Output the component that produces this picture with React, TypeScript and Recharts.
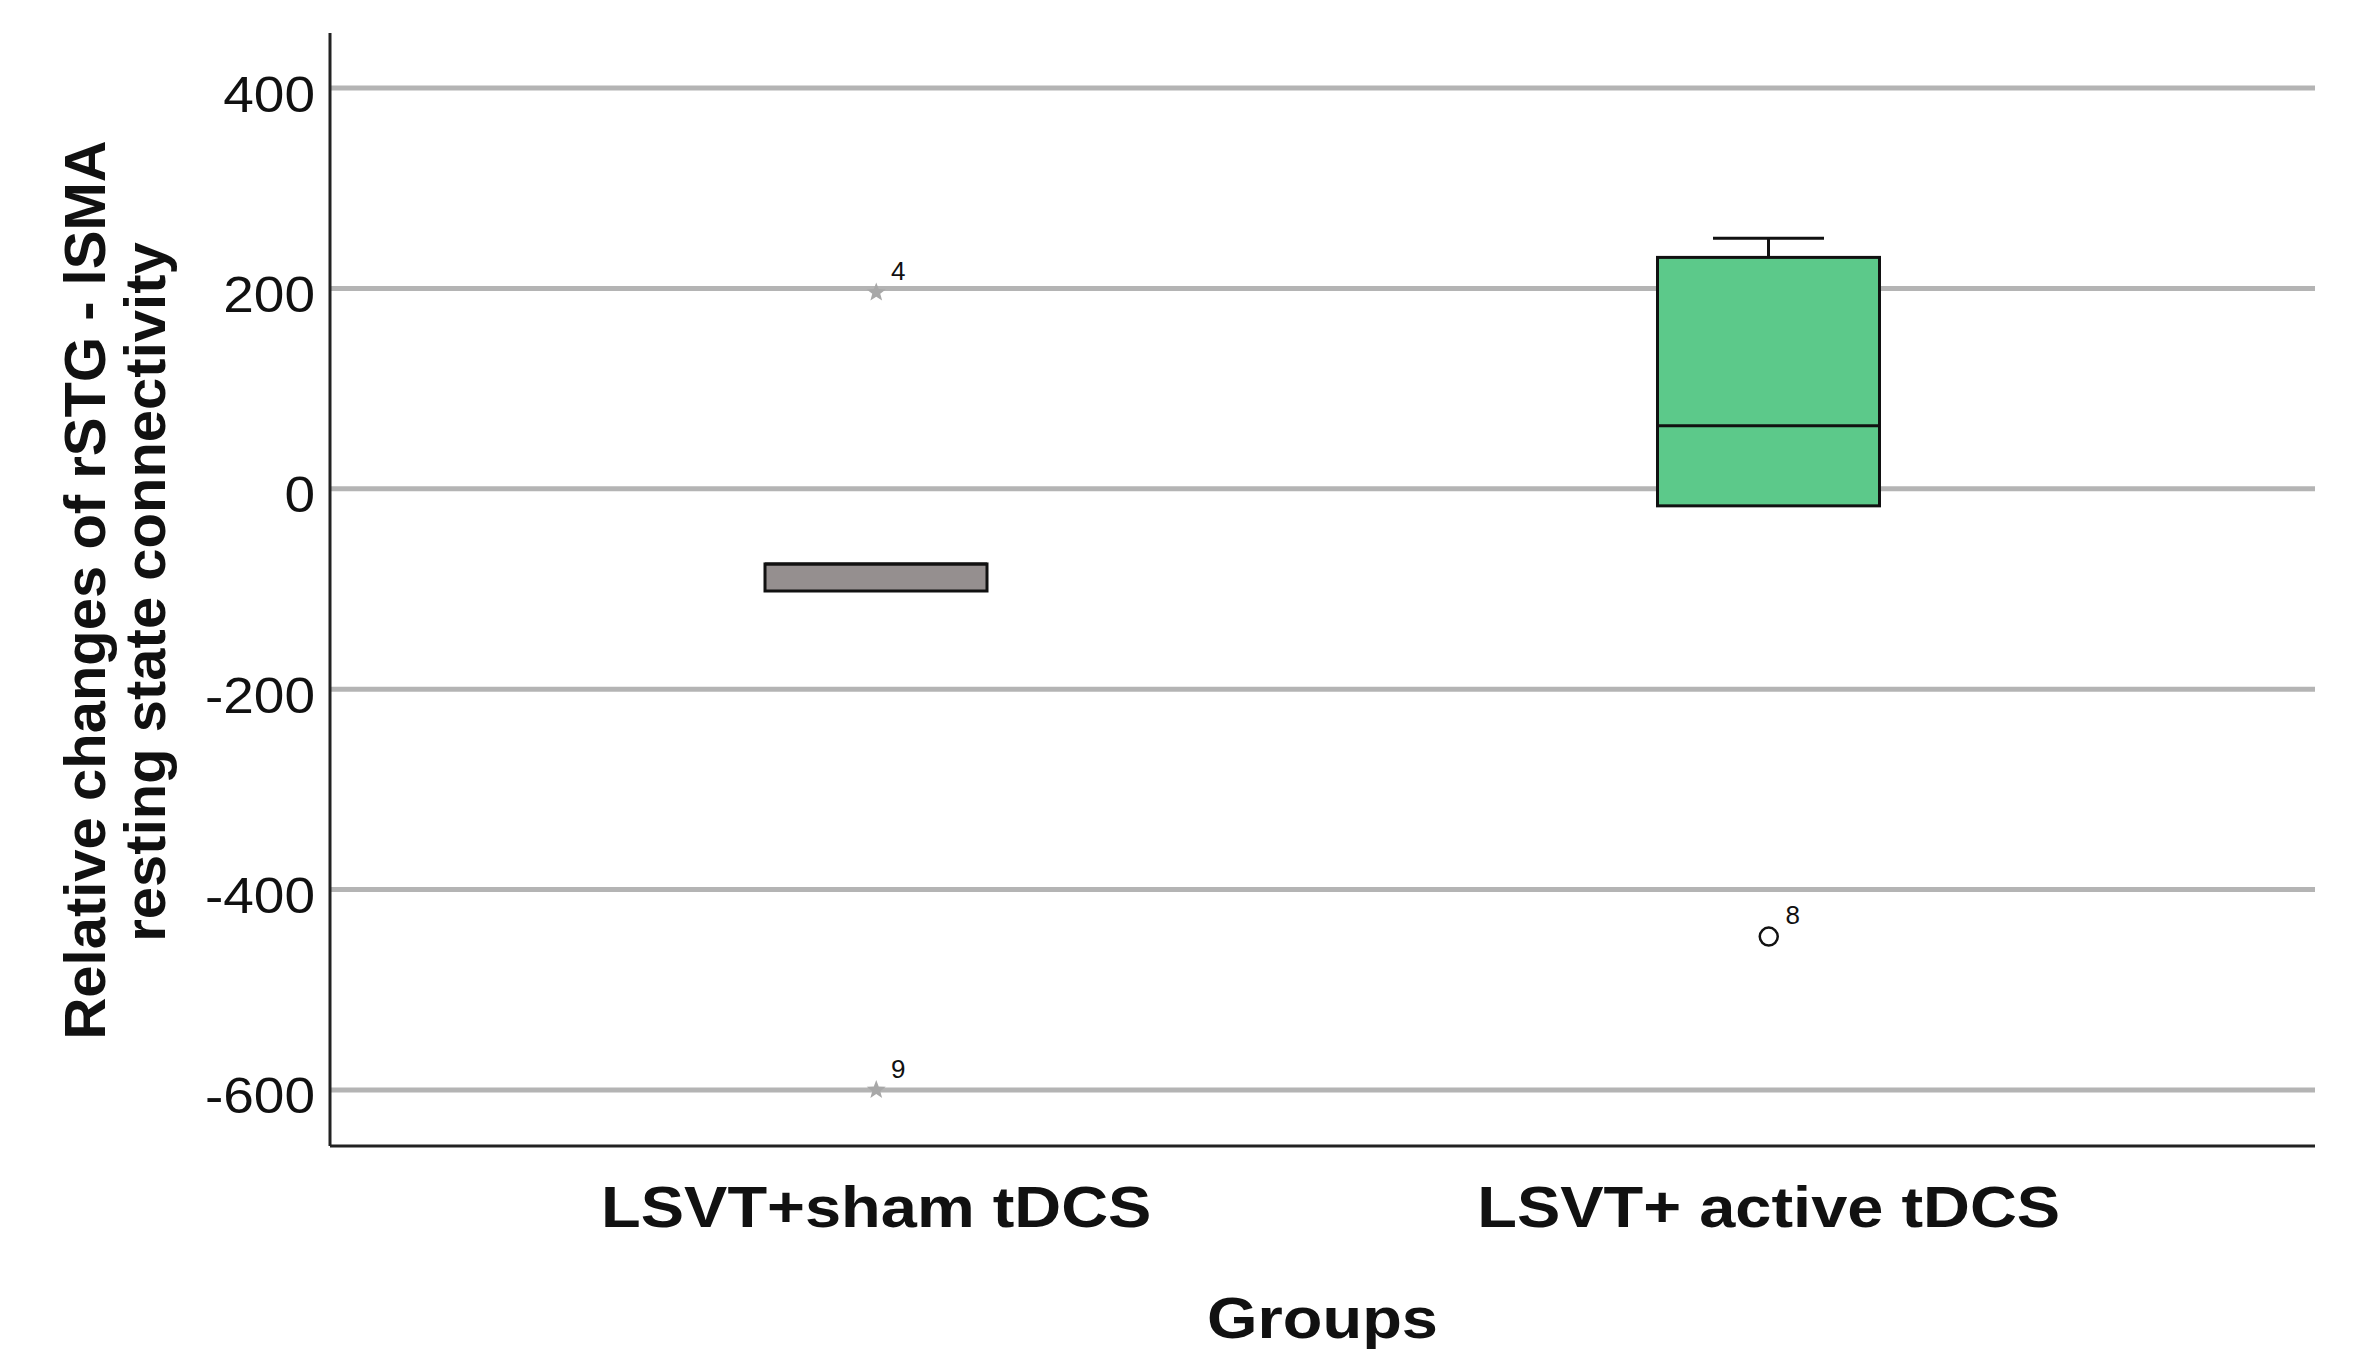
import { ComposedChart, Bar, Scatter, XAxis, YAxis, CartesianGrid } from 'recharts';

document.body.style.margin = '0';

const groups = ['LSVT+sham tDCS', 'LSVT+ active tDCS'];
const whiskerLow = [-102, -17];
const q1 = [-102, -17];
const median = [-75, 63];
const q3 = [-75, 231];
const whiskerHigh = [-75, 250];
// extreme values (stars) and outliers (circles), with case numbers
const extremeHigh = [196, null];
const extremeHighId = ['4', null];
const extremeLow = [-600, null];
const extremeLowId = ['9', null];
const outlier = [null, -447];
const outlierId = [null, '8'];
const yTicks = [-600, -400, -200, 0, 200, 400];

const boxColors = ['#958f8f', '#5cc98a'];
const FONT = '"Liberation Sans", Arial, sans-serif';

const data = groups.map((g, i) => ({
  group: g,
  lo: whiskerLow[i],
  q1: q1[i],
  med: median[i],
  q3: q3[i],
  hi: whiskerHigh[i],
  extHi: extremeHigh[i],
  extHiId: extremeHighId[i],
  extLo: extremeLow[i],
  extLoId: extremeLowId[i],
  out: outlier[i],
  outId: outlierId[i],
}));

const BoxShape = (props: any) => {
  const { x, y, width, height, payload, index } = props;
  const top = Math.min(y, y + height);
  const h = Math.abs(height);
  const k = h / (payload.q3 - payload.q1);
  const yOf = (v: number) => top + (payload.q3 - v) * k;
  const cx = x + width / 2;
  const cap = width / 4;
  return (
    <g>
      {payload.hi > payload.q3 && (
        <g stroke="#111" strokeWidth={3}>
          <line x1={cx} x2={cx} y1={yOf(payload.q3)} y2={yOf(payload.hi)} />
          <line x1={cx - cap} x2={cx + cap} y1={yOf(payload.hi)} y2={yOf(payload.hi)} />
        </g>
      )}
      {payload.lo < payload.q1 && (
        <g stroke="#111" strokeWidth={3}>
          <line x1={cx} x2={cx} y1={yOf(payload.q1)} y2={yOf(payload.lo)} />
          <line x1={cx - cap} x2={cx + cap} y1={yOf(payload.lo)} y2={yOf(payload.lo)} />
        </g>
      )}
      <rect x={x} y={top} width={width} height={h} fill={boxColors[index]} stroke="#111" strokeWidth={3} />
      <line x1={x} x2={x + width} y1={yOf(payload.med)} y2={yOf(payload.med)} stroke="#111" strokeWidth={3} />
    </g>
  );
};

const starPoints = (cx: number, cy: number, r: number) => {
  const pts: string[] = [];
  for (let i = 0; i < 10; i++) {
    const a = -Math.PI / 2 + (i * Math.PI) / 5;
    const rr = i % 2 === 0 ? r : r * 0.42;
    pts.push(`${cx + rr * Math.cos(a)},${cy + rr * Math.sin(a)}`);
  }
  return pts.join(' ');
};

const makeStar = (valueKey: string, idKey: string) => (props: any) => {
  const { cx, cy, payload } = props;
  if (payload[valueKey] == null) return <g />;
  return (
    <g>
      <polygon points={starPoints(cx, cy, 10)} fill="#a8a8a8" />
      <text x={cx + 22} y={cy - 21} textAnchor="middle" dominantBaseline="central" fontSize={26} fontFamily={FONT} fill="#111">
        {payload[idKey]}
      </text>
    </g>
  );
};

const makeCircle = (valueKey: string, idKey: string) => (props: any) => {
  const { cx, cy, payload } = props;
  if (payload[valueKey] == null) return <g />;
  return (
    <g>
      <circle cx={cx} cy={cy} r={9} fill="#fff" stroke="#111" strokeWidth={2.5} />
      <text x={cx + 24} y={cy - 22} textAnchor="middle" dominantBaseline="central" fontSize={26} fontFamily={FONT} fill="#111">
        {payload[idKey]}
      </text>
    </g>
  );
};

const YTick = ({ x, y, payload }: any) => (
  <text transform={`translate(${x},${y + 6}) scale(1.1,1)`} textAnchor="end" dominantBaseline="central" fontSize={50} fontFamily={FONT} fill="#111">
    {payload.value}
  </text>
);

const XTick = ({ x, y, payload }: any) => (
  <text transform={`translate(${x},${y + 59}) scale(1.12,1)`} textAnchor="middle" dominantBaseline="central" fontSize={58} fontWeight="bold" fontFamily={FONT} fill="#111">
    {payload.value}
  </text>
);

const XLabel = ({ viewBox }: any) => (
  <text transform={`translate(${viewBox.x + viewBox.width / 2},1318) scale(1.12,1)`} textAnchor="middle" dominantBaseline="central" fontSize={58} fontWeight="bold" fontFamily={FONT} fill="#111">
    Groups
  </text>
);

const YLabel = () => (
  <g fontSize={58} fontWeight="bold" fontFamily={FONT} fill="#111" textAnchor="middle">
    <text transform="translate(84,590) rotate(-90)" dominantBaseline="central">Relative changes of rSTG - lSMA</text>
    <text transform="translate(144,592) rotate(-90)" dominantBaseline="central">resting state connectivity</text>
  </g>
);

export default function App() {
  return (
    <ComposedChart width={2353} height={1349} data={data} margin={{ top: 33, right: 38, bottom: 53, left: 0 }}>
      <CartesianGrid horizontal vertical={false} syncWithTicks stroke="#b4b4b4" strokeWidth={5} />
      <XAxis
        dataKey="group"
        type="category"
        padding={{ left: 100, right: 100 }}
        height={150}
        tickSize={0}
        tickLine={false}
        axisLine={{ stroke: '#222', strokeWidth: 3 }}
        tick={<XTick />}
        label={<XLabel />}
      />
      <YAxis
        type="number"
        domain={[-656, 455]}
        ticks={yTicks}
        allowDataOverflow
        width={330}
        tickSize={0}
        tickMargin={15}
        tickLine={false}
        axisLine={{ stroke: '#222', strokeWidth: 3 }}
        tick={<YTick />}
        label={<YLabel />}
      />
      <Bar dataKey={(d: any) => [d.q1, d.q3]} barSize={222} shape={BoxShape} isAnimationActive={false} />
      <Scatter dataKey="extHi" shape={makeStar('extHi', 'extHiId')} isAnimationActive={false} />
      <Scatter dataKey="extLo" shape={makeStar('extLo', 'extLoId')} isAnimationActive={false} />
      <Scatter dataKey="out" shape={makeCircle('out', 'outId')} isAnimationActive={false} />
    </ComposedChart>
  );
}
